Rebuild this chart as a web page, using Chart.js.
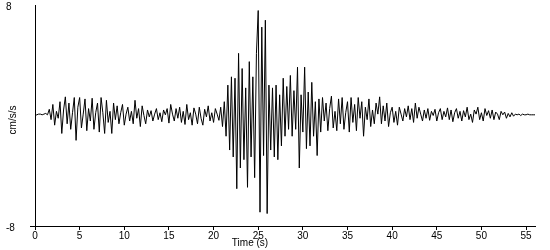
<!DOCTYPE html>
<html>
<head>
<meta charset="utf-8">
<script src="https://cdn.jsdelivr.net/npm/chart.js@4/dist/chart.umd.min.js"></script>
<style>
  html, body { margin: 0; padding: 0; background: #fff; }
  #wrap { width: 550px; height: 250px; position: relative; }
</style>
</head>
<body>
<div id="wrap"><canvas id="seismo"></canvas></div>
<script>
// sample interval of the trace (s)
const SAMPLE_STEP = 0.2;

// acceleration (cm/s/s), one row per second
const accelOnset = [
    0, 0.05, 0.1, 0.1, 0.05,
    0.1, 0.15, 0.05, 0.45, -0.3,
    0.8, -0.7, 0.3, -0.2, 1.0,
    -1.3, 0.4, 1.35, -0.6, 0.9,
    -1.0, 0.2, 1.3, -1.8, 0.6,
    1.3, -0.9, 0.1, 1.2, -1.1,
    0.5, -0.4, 1.25, -1.0, 0.2,
    0.9, -1.2, 1.3, 0.2, -1.3,
    1.1, -0.5, 0.3, -1.3, 0.9,
    -0.3, 0.7, -0.6, 0.2, 0.8,
    -0.7, 0.1, 0.6, -0.4, 0.3,
    -0.6, 1.1, -0.2, 0.5, -0.8,
    0.7, 0.0, -0.6, 0.4, -0.1,
    0.35, -0.4, 0.1, 0.5, -0.3,
    0.2, -0.45, 0.4, 0.05, 0.5,
    -0.55, 0.8, 0.1, -0.4, 0.5,
    -0.2, 0.6, -0.5, 0.3, -0.65,
    0.8, -0.3, 0.2, -0.7, 0.55,
    0.1, -0.6, 0.6, -0.2, -0.7,
    0.45, -0.1, 0.7, -0.4, 0.2,
    -0.5, 0.5, 0.1, -0.35, 0.6
];

const accelStrong = [
    -0.8, 1.0, -1.5, 2.2, -2.5,
    2.8, -3.0, 2.7, -5.3, 4.5,
    -3.8, 3.4, -3.2, 2.0, -5.2,
    3.9, -3.0, 2.8, -4.5, 4.5,
    7.6, -7.0, 6.4, -2.9, 6.9,
    -7.1, 2.2, -2.5, 2.0, -3.0,
    2.2, -3.2, 1.5, -2.2, 2.7,
    -1.5, 2.1, -1.0, 2.9, -1.5,
    1.8, -1.0, 3.5, -3.8, 1.5,
    -1.2, 3.5, -2.4, 1.7, -2.2,
    2.4, -1.5, 1.0, -2.9, 1.2
];

const accelCoda = [
    -1.2, 1.3, -0.4, 0.9, -1.1,
    0.5, 1.4, -0.9, 0.3, -1.1,
    1.2, -0.6, 1.3, -1.0, 0.2,
    1.0, -1.2, 1.3, -0.5, 0.8,
    -1.1, 1.3, -0.2, 1.0, -1.5,
    0.6, -0.3, 1.2, -0.8, 0.4,
    -0.6, 0.9, 0.1, 1.35, -0.6,
    0.7, -0.4, 0.9, -0.8, 0.2,
    0.6, -0.5, 0.3, -0.7, 0.6,
    0.1, -0.4, 0.5, -0.1, 0.7,
    -0.3, 0.5, -0.5, 0.9, -0.2,
    0.6, 0.1, -0.4, 0.4, -0.2,
    0.5, -0.35, 0.3, 0.0, 0.45,
    -0.4, 0.2, 0.5, -0.3, 0.3,
    -0.1, 0.55, -0.3, 0.4, -0.45,
    0.2, 0.5, -0.2, 0.3, -0.4,
    0.35, -0.1, 0.6, -0.3, 0.1,
    -0.5, 0.4, 0.1, 0.6, -0.3,
    0.2, -0.4, 0.5, 0.0, 0.35,
    -0.2, 0.4, -0.3, 0.25, 0.1,
    -0.3, 0.3, 0.05, 0.25, -0.2,
    0.15, -0.1, 0.2, -0.05, 0.1,
    0.05, 0.1, 0.0, 0.1, 0.05,
    0.05, 0.1, 0.05, 0.05, 0.05,
    0.05
];

const yTickValues = [-8, 8];
const xTitle = "Time (s)";
const yTitle = "cm/s/s";

const FONT_FAMILY = "'Liberation Sans', Arial, sans-serif";

const accel = accelOnset.concat(accelStrong, accelCoda);
const points = accel.map((v, i) => ({ x: +(i * SAMPLE_STEP).toFixed(2), y: v }));

// axis titles placed like the original plot
const axisTitles = {
    id: "axisTitles",
    afterDraw(chart) {
        const c = chart.ctx;
        c.save();
        c.fillStyle = "#000";
        c.font = "10px " + FONT_FAMILY;
        c.textAlign = "center";
        c.textBaseline = "alphabetic";
        c.fillText(xTitle, 250, 246);
        c.translate(16, 120);
        c.rotate(-Math.PI / 2);
        c.fillText(yTitle, 0, 0);
        c.restore();
    }
};

new Chart(document.getElementById("seismo"), {
    type: "line",
    data: {
        datasets: [
            {
                data: points,
                borderColor: "#000",
                borderWidth: 1,
                pointRadius: 0,
                tension: 0,
                fill: false
            }
        ]
    },
    options: {
        responsive: true,
        maintainAspectRatio: false,
        animation: false,
        layout: {
            padding: { left: 6, right: 15, top: 5, bottom: 0 }
        },
        plugins: {
            legend: { display: false },
            tooltip: { enabled: false }
        },
        scales: {
            x: {
                type: "linear",
                min: 0,
                max: 56,
                grid: {
                    drawOnChartArea: false,
                    color: "#000",
                    tickLength: 4
                },
                border: { color: "#000", width: 1 },
                ticks: {
                    stepSize: 5,
                    includeBounds: false,
                    color: "#000",
                    padding: 0,
                    maxRotation: 0,
                    font: { family: FONT_FAMILY, size: 10 }
                },
                afterFit(scale) {
                    scale.height = 24;
                    scale.paddingLeft = 0;
                    scale.paddingRight = 0;
                }
            },
            y: {
                type: "linear",
                min: -8,
                max: 8,
                afterBuildTicks(scale) {
                    scale.ticks = yTickValues.map(v => ({ value: v }));
                },
                grid: {
                    drawOnChartArea: false,
                    tickLength: 5,
                    color: ctx => (ctx.tick && ctx.tick.value === -8 ? "#000" : "rgba(0,0,0,0)")
                },
                border: { color: "#000", width: 1 },
                ticks: {
                    color: "#000",
                    crossAlign: "far",
                    labelOffset: 2,
                    font: { family: FONT_FAMILY, size: 10 }
                },
                afterFit(scale) {
                    scale.width = 29;
                    scale.paddingTop = 0;
                    scale.paddingBottom = 0;
                }
            }
        }
    },
    plugins: [axisTitles]
});
</script>
</body>
</html>
